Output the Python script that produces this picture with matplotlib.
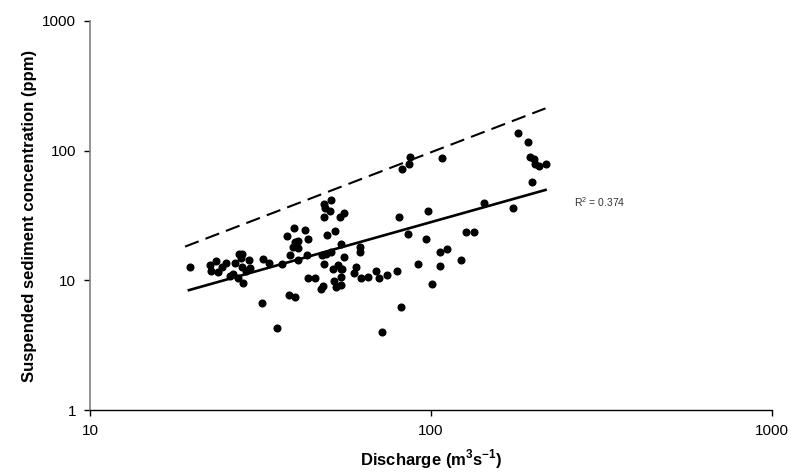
import numpy as np
import matplotlib
matplotlib.use("Agg")
import matplotlib.pyplot as plt

plt.rcParams['font.family'] = ['Liberation Sans', 'DejaVu Sans']
plt.rcParams['mathtext.fontset'] = 'custom'
plt.rcParams['mathtext.rm'] = 'Liberation Sans'
plt.rcParams['mathtext.bf'] = 'Liberation Sans:bold'
plt.rcParams['axes.unicode_minus'] = False

# ------------------------------------------------------------- data

discharge = [19.6, 22.5, 22.6, 23.4, 23.7, 24.4, 25.1, 25.8, 26.3, 26.7,
             27.2, 27.4, 27.7, 28.0, 28.0, 28.1, 28.6, 29.2, 29.5, 32.2,
             33.4, 32.0, 35.3, 36.5, 37.8, 38.4, 38.7, 39.4, 39.6, 39.9,
             39.9, 40.6, 40.8, 40.8, 42.8, 43.3, 43.6, 43.6, 45.6, 47.6,
             48.2, 47.9, 48.5, 48.5, 48.5, 49.0, 49.3, 49.7, 50.5, 50.9,
             50.9, 51.5, 52.0, 52.3, 52.5, 53.3, 54.2, 54.5, 54.5, 54.5,
             54.5, 55.0, 55.6, 55.6, 59.4, 60.1, 61.8, 62.1, 62.3, 65.3,
             68.8, 70.5, 71.9, 74.4, 79.6, 80.3, 81.4, 82.4, 85.5, 86.2,
             86.9, 91.6, 96.9, 98.0, 100.7, 106.1, 106.6, 107.6, 111.3, 122.1,
             126.8, 134.0, 143.5, 174.5, 179.9, 192.6, 195.3, 198.0, 201.0, 202.4,
             207.0, 216.7]

sediment = [12.7, 13.1, 11.7, 14.1, 11.5, 12.7, 13.7, 10.8, 11.2, 13.5,
            10.5, 16.0, 15.0, 16.0, 12.7, 9.5, 11.7, 14.4, 12.4, 14.5,
            13.5, 6.65, 4.3, 13.4, 22.1, 7.7, 15.7, 18.2, 25.2, 7.4,
            19.9, 14.4, 17.7, 20.2, 24.4, 15.7, 20.9, 10.5, 10.5, 8.5,
            9.0, 15.7, 13.3, 31.0, 38.8, 35.9, 16.1, 22.3, 34.2, 41.6,
            16.4, 12.2, 9.8, 24.0, 8.9, 13.1, 31.0, 18.9, 12.2, 10.7,
            9.2, 12.2, 32.8, 15.2, 11.3, 12.7, 18.0, 16.6, 10.5, 10.7,
            11.9, 10.5, 4.0, 11.0, 11.7, 30.6, 6.2, 71.7, 22.6, 78.7,
            89.8, 13.3, 20.8, 34.2, 9.4, 12.9, 16.6, 88.1, 17.4, 14.4,
            23.7, 23.4, 39.2, 36.3, 137.0, 116.0, 89.8, 57.5, 85.5, 78.7,
            76.6, 79.5]

# fitted power law (solid) and upper envelope (dashed), end points
trend_x = [19.5, 216.7]
trend_y = [8.4, 49.8]
upper_x = [19.0, 216.7]
upper_y = [18.2, 212.0]

r2_label = "R$^2$ = 0.374"
r2_pos = (262.8, 40.4)

# ------------------------------------------------------------- figure

fig = plt.figure(figsize=(7.91, 4.74), dpi=100)
ax = fig.add_axes([90/791, 64/474, 682/791, 389/474])

ax.plot(discharge, sediment, "o", color="black", markersize=4.8, zorder=3)
ax.plot(trend_x, trend_y, "-", color="black", linewidth=1.9)
ax.plot(upper_x, upper_y, color="black", linewidth=1.5,
        dashes=(7, 3.5))

ax.text(r2_pos[0], r2_pos[1], r2_label, fontsize=7.5, color="#333333",
        ha="left", va="center")

ax.set_xscale("log")
ax.set_yscale("log")
ax.set_xlim(10, 1000)
ax.set_ylim(1, 1000)

ax.set_xticks([10, 100, 1000])
ax.set_xticklabels(["10", "100", "1000"])
ax.set_yticks([1, 10, 100, 1000])
ax.set_yticklabels(["1", "10", "100", "1000"])
ax.minorticks_off()

ax.spines["top"].set_visible(False)
ax.spines["right"].set_visible(False)
ax.spines["left"].set_color("#808080")
ax.spines["left"].set_linewidth(1.2)
ax.spines["bottom"].set_color("black")
ax.spines["bottom"].set_linewidth(1.0)

ax.tick_params(axis="both", direction="out", length=4, width=1,
               labelsize=11, colors="black", pad=6)

ax.set_xlabel("Discharge (m$^\\mathbf{3}$s$^\\mathbf{-1}$)", fontsize=12,
              fontweight="bold", labelpad=7)
ax.set_ylabel("Suspended sediment concentration (ppm)", fontsize=12,
              fontweight="bold", labelpad=4)

fig.savefig("out.png", dpi=100)
